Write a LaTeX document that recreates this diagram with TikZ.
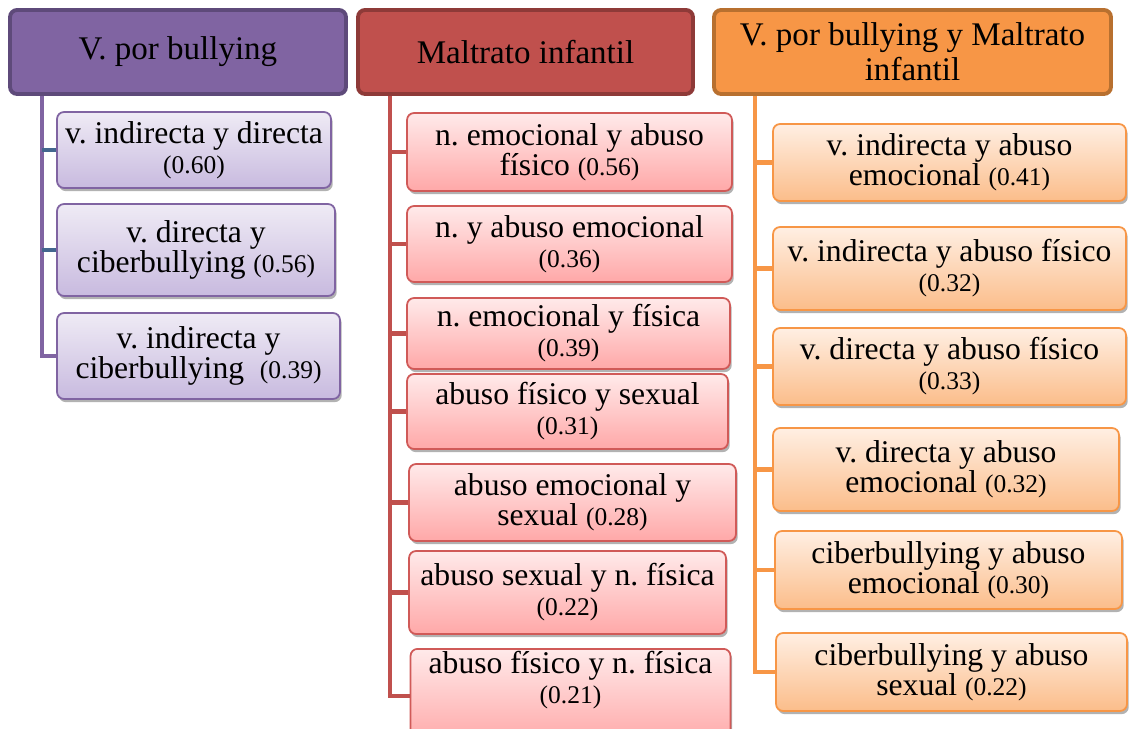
\documentclass[tikz,border=0pt]{standalone}
\usepackage{fontspec}
\setmainfont{Liberation Serif}
\usepackage{tikz}
\usetikzlibrary{shadows}
\frenchspacing

\definecolor{lilaFondo}{HTML}{8064A2}
\definecolor{lilaBorde}{HTML}{5E4A7A}
\definecolor{lilaArriba}{HTML}{EFEBF5}
\definecolor{lilaAbajo}{HTML}{C8BADF}
\definecolor{lilaRama}{HTML}{44678F}
\definecolor{rojoFondo}{HTML}{C0504D}
\definecolor{rojoBorde}{HTML}{8E3A38}
\definecolor{rojoArriba}{HTML}{FFEAEA}
\definecolor{rojoAbajo}{HTML}{FFA8A8}
\definecolor{rojoLinea}{HTML}{D05A58}
\definecolor{narFondo}{HTML}{F79646}
\definecolor{narBorde}{HTML}{B8702F}
\definecolor{narArriba}{HTML}{FFEFE3}
\definecolor{narAbajo}{HTML}{FBBD8A}

\newcommand\cifra[1]{{\fontsize{14.5}{17}\selectfont #1}}

\begin{document}
\begin{tikzpicture}[x=0.02cm, y=-0.02cm,
	cabeza/.style={draw, line width=2.2pt, rounded corners=4pt, align=center, inner sep=0pt,
		font=\fontsize{18.8}{20}\selectfont},
	hijo/.style={draw, line width=1pt, rounded corners=4pt, align=center, inner sep=0pt,
		font=\fontsize{18}{17}\selectfont,
		drop shadow={shadow xshift=1pt, shadow yshift=-1.8pt, opacity=.3, fill=black}},
	hijoLila/.style={hijo, draw=lilaFondo, top color=lilaArriba, bottom color=lilaAbajo},
	hijoRojo/.style={hijo, draw=rojoLinea, top color=rojoArriba, bottom color=rojoAbajo},
	hijoNar/.style={hijo, draw=narFondo, top color=narArriba, bottom color=narAbajo},
	tronco/.style={line width=2.3pt}]
	\useasboundingbox (0,0) rectangle (1136,729);

	\node[cabeza, fill=lilaFondo, draw=lilaBorde, minimum width=6.72cm, minimum height=1.68cm] (bully) at (178,52) {V. por bullying};
	\node[cabeza, fill=rojoFondo, draw=rojoBorde, minimum width=6.7cm, minimum height=1.68cm] (maltrato) at (525.5,52) {Maltrato infantil};
	\node[cabeza, fill=narFondo, draw=narBorde, minimum width=7.94cm, minimum height=1.68cm] (ambos) at (912.5,52) {V. por bullying y Maltrato\\infantil};

	\node[hijoLila, minimum width=5.48cm, minimum height=1.52cm] (c1) at (194,150) {v. indirecta y directa\\\cifra{(0.60)}};
	\node[hijoLila, minimum width=5.56cm, minimum height=1.84cm] (c2) at (196,250) {v. directa y\\ciberbullying \cifra{(0.56)}};
	\node[hijoLila, minimum width=5.66cm, minimum height=1.72cm] (c3) at (198.5,356) {v. indirecta y\\ciberbullying \ \cifra{(0.39)}};

	\node[hijoRojo, minimum width=6.5cm, minimum height=1.56cm] (m1) at (569.5,152) {n. emocional y abuso\\físico \cifra{(0.56)}};
	\node[hijoRojo, minimum width=6.5cm, minimum height=1.52cm] (m2) at (569.5,244) {n. y abuso emocional\\\cifra{(0.36)}};
	\node[hijoRojo, minimum width=6.46cm, minimum height=1.42cm] (m3) at (568.5,333.5) {n. emocional y física\\\cifra{(0.39)}};
	\node[hijoRojo, minimum width=6.42cm, minimum height=1.5cm] (m4) at (567.5,411.5) {abuso físico y sexual\\\cifra{(0.31)}};
	\node[hijoRojo, minimum width=6.54cm, minimum height=1.54cm] (m5) at (572.5,502.5) {abuso emocional y\\sexual \cifra{(0.28)}};
	\node[hijoRojo, minimum width=6.34cm, minimum height=1.66cm] (m6) at (567.5,592.5) {abuso sexual y n. física\\\cifra{(0.22)}};
	\node[hijoRojo, minimum width=6.4cm, anchor=north, inner ysep=1.5pt, text depth=0.75cm] (m7) at (570.5,648) {abuso físico y n. física\\\cifra{(0.21)}};

	\node[hijoNar, minimum width=7.06cm, minimum height=1.54cm] (b1) at (949.5,162.5) {v. indirecta y abuso\\emocional \cifra{(0.41)}};
	\node[hijoNar, minimum width=7.06cm, minimum height=1.66cm] (b2) at (949.5,268.5) {v. indirecta y abuso físico\\\cifra{(0.32)}};
	\node[hijoNar, minimum width=7.06cm, minimum height=1.54cm] (b3) at (949.5,366.5) {v. directa y abuso físico\\\cifra{(0.33)}};
	\node[hijoNar, minimum width=6.92cm, minimum height=1.66cm] (b4) at (946,469.5) {v. directa y abuso\\emocional \cifra{(0.32)}};
	\node[hijoNar, minimum width=6.94cm, minimum height=1.56cm] (b5) at (948.5,570) {ciberbullying y abuso\\emocional \cifra{(0.30)}};
	\node[hijoNar, minimum width=7.02cm, minimum height=1.56cm] (b6) at (951.5,672) {ciberbullying y abuso\\sexual \cifra{(0.22)}};

	\coordinate (t1) at ([xshift=0.68cm]bully.south west);
	\coordinate (t2) at ([xshift=0.68cm]maltrato.south west);
	\coordinate (t3) at ([xshift=0.86cm]ambos.south west);

	\draw[tronco, lilaFondo] (t1) |- (c3.west);
	\draw[tronco, lilaRama] (c1.west -| t1) -- (c1.west);
	\draw[tronco, lilaRama] (c2.west -| t1) -- (c2.west);

	\draw[tronco, rojoFondo] (t2) |- (m7.west);
	\foreach \h in {m1,m2,m3,m4,m5,m6}
		\draw[tronco, rojoFondo] (\h.west -| t2) -- (\h.west);

	\draw[tronco, narFondo] (t3) |- (b6.west);
	\foreach \h in {b1,b2,b3,b4,b5}
		\draw[tronco, narFondo] (\h.west -| t3) -- (\h.west);
\end{tikzpicture}
\end{document}
